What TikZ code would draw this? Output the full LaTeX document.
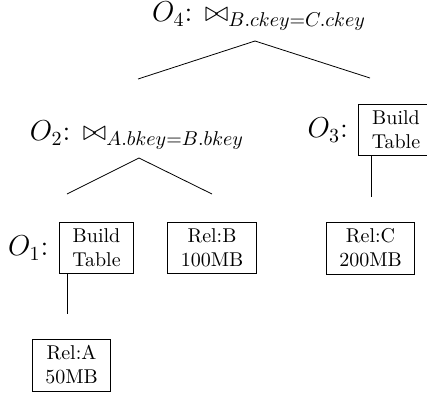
\documentclass[tikz,border=0pt]{standalone}
\usepackage{amsmath}
\usetikzlibrary{positioning}
\begin{document}
\begin{tikzpicture}[x=0.5pt,y=-0.5pt,
    box/.style={draw, align=center, inner xsep=6.5pt},
    oplabel/.style={font=\Large, inner sep=1pt}]
            \useasboundingbox (0,0) rectangle (427,392);
            % joins
            \node[oplabel] (o4) at (259,16) {$O_4$: $\bowtie_{B.ckey=C.ckey}$};
            \node[oplabel] (o2) at (137,135) {$O_2$: $\bowtie_{A.bkey=B.bkey}$};
            % build tables and relations
            \node[box] (o3) at (396,130) {Build\\Table};
            \node[oplabel, left=4pt of o3] (o3lbl) {$O_3$:};
            \node[box] (o1) at (96.5,248) {Build\\Table};
            \node[oplabel, left=4pt of o1] (o1lbl) {$O_1$:};
            \node[box] (relb) at (212,248) {Rel:B\\100MB};
            \node[box] (relc) at (370.5,248) {Rel:C\\200MB};
            \node[box] (rela) at (71.5,365) {Rel:A\\50MB};
            % tree edges (ends stop short of the children)
            \coordinate (t4) at (255,41);
            \coordinate (t4l) at (138,79);
            \coordinate (t4r) at (370,78);
            \coordinate (t2) at (139,158);
            \coordinate (t2l) at (67,194);
            \coordinate (t2r) at (212,194);
            \coordinate (t1) at (67,273);
            \coordinate (t1e) at (67,314);
            \coordinate (t3) at (371,155);
            \coordinate (t3e) at (371,197);
            \draw (t4) -- (t4l);
            \draw (t4) -- (t4r);
            \draw (t2) -- (t2l);
            \draw (t2) -- (t2r);
            \draw (t1) -- (t1e);
            \draw (t3) -- (t3e);
        \end{tikzpicture}
\end{document}
